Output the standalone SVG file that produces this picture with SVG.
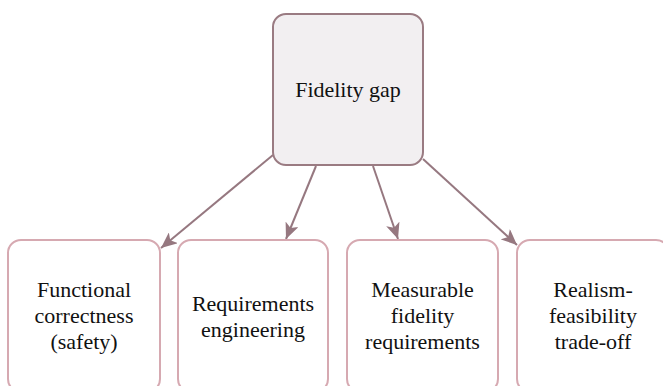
<svg xmlns="http://www.w3.org/2000/svg" width="663" height="386" viewBox="0 0 663 386">
<style>
.main{fill:#f2eff1;stroke:#9a7b82;stroke-width:2}
.leaf{fill:#ffffff;stroke:#d6a9b1;stroke-width:2}
.t{font-family:"Liberation Serif","Times New Roman",serif;font-size:22px;fill:#111;text-anchor:middle}
.edge{stroke:#967880;stroke-width:2;fill:none}
</style>
<defs>
<marker id="ah" viewBox="0 0 16 14" refX="16" refY="7" markerWidth="16" markerHeight="14" markerUnits="userSpaceOnUse" orient="auto">
<path d="M0,0 L16,7 L0,14 L4,7 Z" fill="#967880"/>
</marker>
</defs>
<rect width="663" height="386" fill="#ffffff"/>
<g id="connectors">
<line class="edge" x1="273" y1="155" x2="161" y2="248" marker-end="url(#ah)"/>
<line class="edge" x1="316" y1="166" x2="286" y2="239" marker-end="url(#ah)"/>
<line class="edge" x1="373" y1="166" x2="398" y2="239" marker-end="url(#ah)"/>
<line class="edge" x1="423" y1="159" x2="517" y2="245" marker-end="url(#ah)"/>
</g>
<g id="fidelity-gap">
<rect class="main" x="273" y="14" width="150" height="151" rx="13"/>
<text class="t" x="348" y="97">Fidelity gap</text>
</g>
<g id="functional-correctness">
<rect class="leaf" x="8" y="240" width="152" height="152" rx="13"/>
<text class="t" x="84" y="297">Functional</text>
<text class="t" x="84" y="323">correctness</text>
<text class="t" x="84" y="349">(safety)</text>
</g>
<g id="requirements-engineering">
<rect class="leaf" x="178" y="240" width="150" height="152" rx="13"/>
<text class="t" x="253" y="311">Requirements</text>
<text class="t" x="253" y="337">engineering</text>
</g>
<g id="measurable-fidelity">
<rect class="leaf" x="347" y="240" width="151" height="152" rx="13"/>
<text class="t" x="422.5" y="297">Measurable</text>
<text class="t" x="422.5" y="323">fidelity</text>
<text class="t" x="422.5" y="349">requirements</text>
</g>
<g id="realism-feasibility">
<rect class="leaf" x="517" y="240" width="152" height="152" rx="13"/>
<text class="t" x="593" y="297">Realism-</text>
<text class="t" x="593" y="323">feasibility</text>
<text class="t" x="593" y="349">trade-off</text>
</g>
</svg>
